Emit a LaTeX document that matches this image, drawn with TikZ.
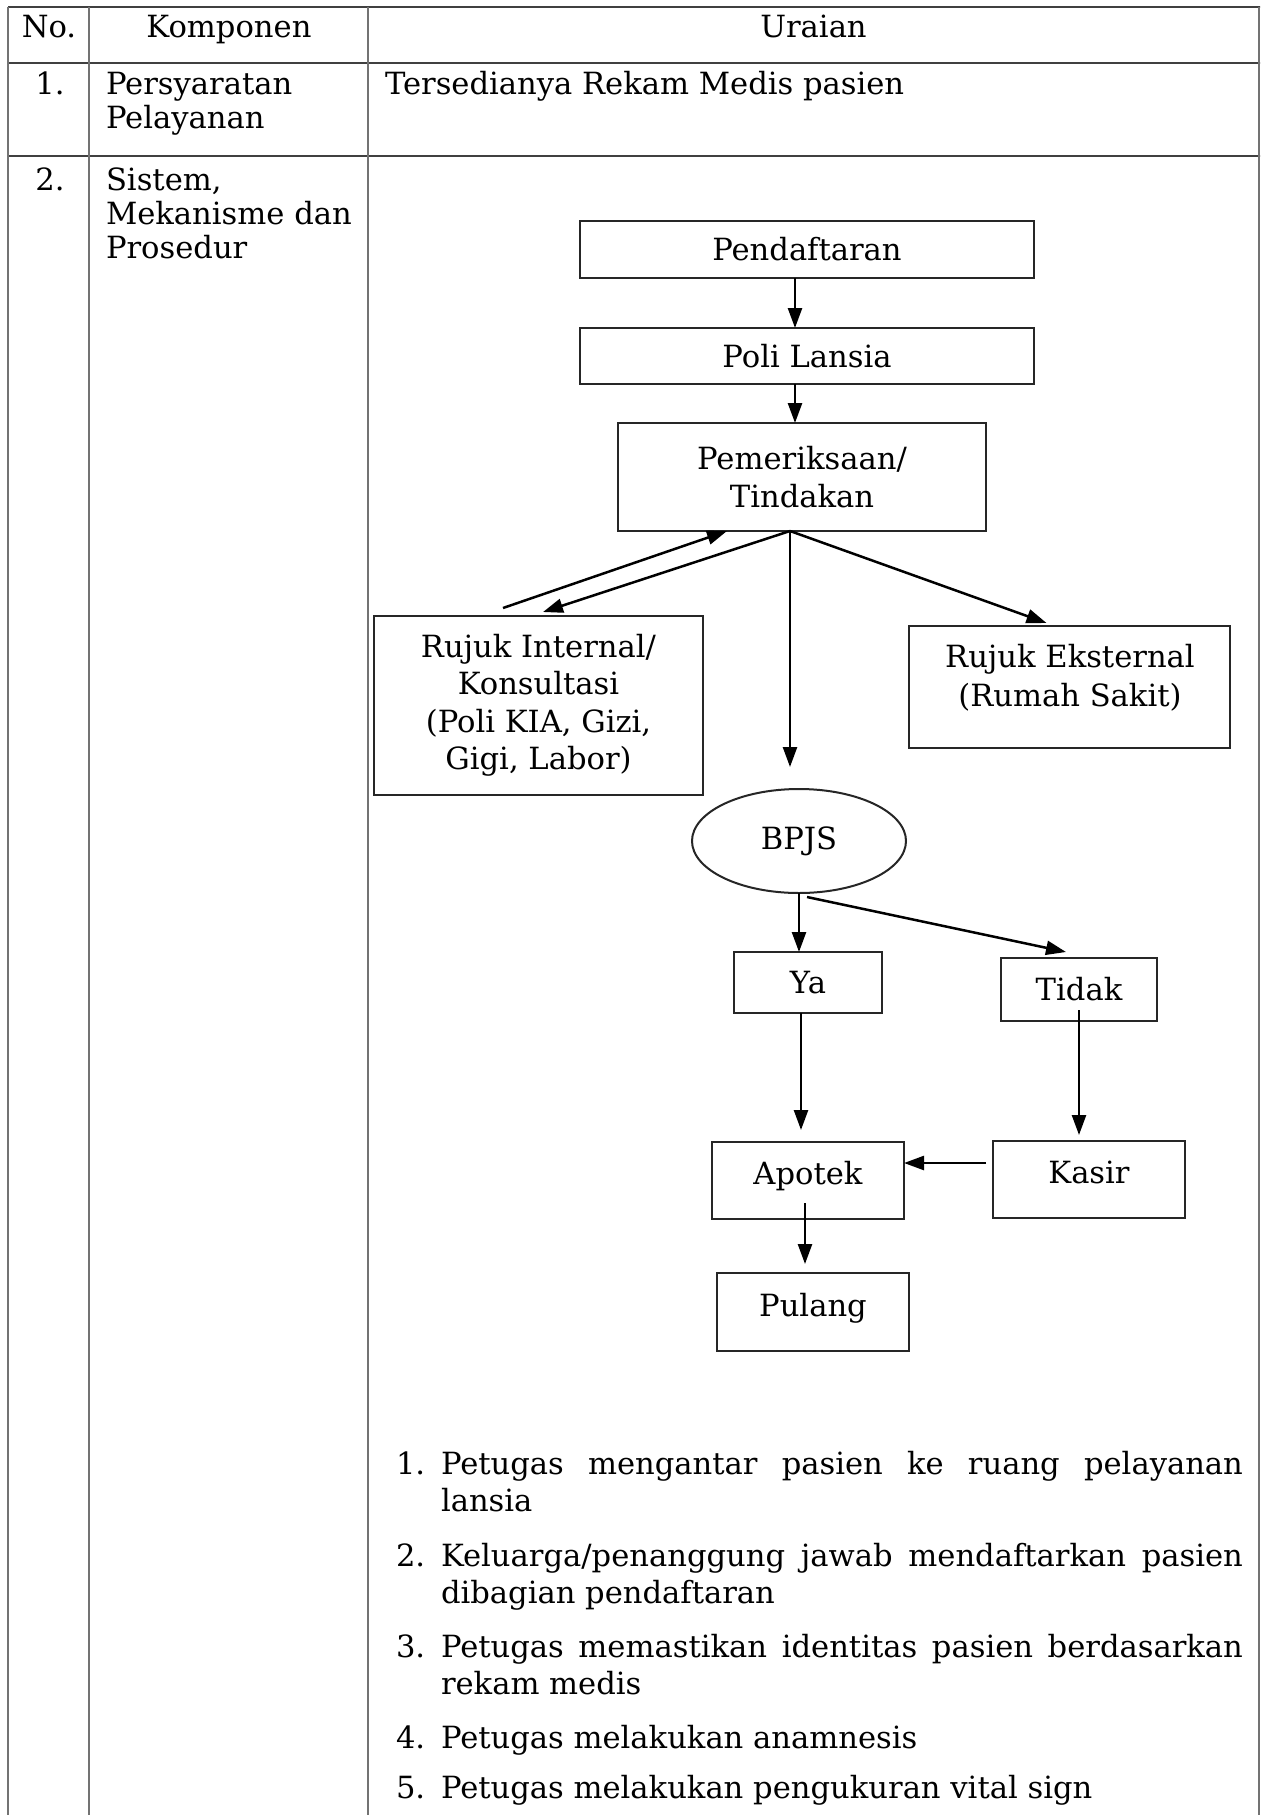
\documentclass[tikz,border=0pt]{standalone}
\usepackage{fontspec}
\setmainfont{DejaVu Serif}
\usetikzlibrary{arrows.meta,shapes.geometric,calc}

\begin{document}
\begin{tikzpicture}[x=0.5pt,y=-0.5pt,
  every node/.style={inner sep=0pt, outer sep=0pt},
  txt/.style={font=\fontsize{15.3}{17.5}\selectfont, anchor=base},
  box/.style={draw=black!85, line width=1pt, font=\fontsize{15.3}{19}\selectfont, align=center},
  oval/.style={box, ellipse},
  flow/.style={line width=1.25pt, -{Triangle[length=10pt,width=7pt]}},
  hrule/.style={line width=1.3pt, draw=black!75},
  vrule/.style={line width=0.9pt, draw=black!55}]

\useasboundingbox (0,0) rectangle (1260,1815);
\clip (0,0) rectangle (1260,1815);
\fill[white] (0,0) rectangle (1260,1815);

% table grid
\draw[hrule] (8,7) -- (1262,7);
\draw[hrule] (8,63) -- (1262,63);
\draw[hrule] (8,156) -- (1262,156);
\draw[vrule] (8,7) -- (8,1830);
\draw[vrule] (89,7) -- (89,1830);
\draw[vrule] (368,7) -- (368,1830);
\draw[vrule] (1259,7) -- (1259,1830);

% header row
\node[txt] (hno) at (49,37) {No.};
\node[txt] (hkomp) at (229,37) {Komponen};
\node[txt] (hurai) at (813.5,37) {Uraian};

% row 1
\node[txt] (n1) at (50,94) {1.};
\node[txt, anchor=base west] (k1a) at (106,94) {Persyaratan};
\node[txt, anchor=base west] (k1b) at (106,128) {Pelayanan};
\node[txt, anchor=base west] (u1) at (385,94) {Tersedianya Rekam Medis pasien};

% row 2
\node[txt] (n2) at (50,190) {2.};
\node[txt, anchor=base west] (k2a) at (106,190) {Sistem,};
\node[txt, anchor=base west] (k2b) at (106,224) {Mekanisme dan};
\node[txt, anchor=base west] (k2c) at (106,258) {Prosedur};

% flowchart boxes
\node[box, minimum width=227pt, minimum height=28.5pt] (pend) at (807,249.5) {Pendaftaran};
\node[box, minimum width=227pt, minimum height=28pt] (poli) at (807,356) {Poli Lansia};
\node[box, minimum width=184pt, minimum height=54pt] (pem) at (802,477) {Pemeriksaan/\\Tindakan};
\node[box, minimum width=164.5pt, minimum height=89.5pt, font=\fontsize{15.3}{18.75}\selectfont] (ri) at (538.5,705.5)
  {Rujuk Internal/\\Konsultasi\\(Poli KIA, Gizi,\\Gigi, Labor)};
\node[box, minimum width=160.5pt, minimum height=61pt] (re) at (1069.5,687) {};
\node[txt] (retxt1) at (1070,667) {Rujuk Eksternal};
\node[txt] (retxt2) at (1070,706) {(Rumah Sakit)};
\node[oval, minimum width=107pt, minimum height=52pt] (bpjs) at (799,841) {BPJS};
\node[box, minimum width=74pt, minimum height=30.5pt] (ya) at (808,982.5) {Ya};
\node[box, minimum width=78pt, minimum height=31.5pt] (tidak) at (1079,989.5) {Tidak};
\node[box, minimum width=96pt, minimum height=38.5pt] (apotek) at (808,1180.5) {};
\node[txt] (apotektxt) at (808,1184) {Apotek};
\node[box, minimum width=96pt, minimum height=38.5pt] (kasir) at (1089,1179.5) {};
\node[txt] (kasirtxt) at (1089,1183) {Kasir};
\node[box, minimum width=96pt, minimum height=39pt] (pulang) at (813,1312) {};
\node[txt] (pulangtxt) at (813,1316) {Pulang};

% connector end points
\coordinate (pendout) at ($(pend.south)+(-12,0)$);
\coordinate (poliout) at ($(poli.south)+(-12,0)$);
\coordinate (fan) at ($(pem.south)+(-12,0)$);
\coordinate (riback) at ($(ri.north)+(-35.5,-8)$);
\coordinate (yaout) at ($(ya.south)+(-7,0)$);
\coordinate (tidakout) at ($(tidak.south)+(0,-11)$);
\coordinate (kasirout) at ($(kasir.north west)+(-7,22)$);
\coordinate (apotekout) at ($(apotek.south)+(-3,-16)$);

% connectors
\draw[flow] (pendout) -- (pendout |- poli.north);
\draw[flow] (poliout) -- (poliout |- pem.north);
\draw[flow, shorten >=11pt] (fan) -- (fan |- bpjs.north);
\draw[flow] (fan) -- ($(ri.north)+(4.5,-4)$);
\draw[flow] (riback) -- ($(pem.south)+(-75,0)$);
\draw[flow] (fan) -- ($(re.north)+(-23,-3)$);
\draw[flow] (bpjs.south) -- (bpjs.south |- ya.north);
\draw[flow] ($(bpjs.south)+(8,4)$) -- ($(tidak.north)+(-13,-6)$);
\draw[flow, shorten >=6pt] (yaout) -- (yaout |- apotek.north);
\draw[flow, shorten >=3pt] (tidakout) -- (tidakout |- kasir.north);
\draw[flow] (kasirout) -- (kasirout -| apotek.east);
\draw[flow, shorten >=4.5pt] (apotekout) -- (apotekout |- pulang.north);

% numbered steps
\node[txt, anchor=base west] (l1) at (396,1474) {1.};
\node[txt, anchor=base west] (s1a) at (441,1474) {\makebox[401pt][s]{Petugas mengantar pasien ke ruang pelayanan}};
\node[txt, anchor=base west] (s1b) at (441,1511) {lansia};
\node[txt, anchor=base west] (l2) at (396,1566) {2.};
\node[txt, anchor=base west] (s2a) at (441,1566) {\makebox[401pt][s]{Keluarga/penanggung jawab mendaftarkan pasien}};
\node[txt, anchor=base west] (s2b) at (441,1603) {dibagian pendaftaran};
\node[txt, anchor=base west] (l3) at (396,1657) {3.};
\node[txt, anchor=base west] (s3a) at (441,1657) {\makebox[401pt][s]{Petugas memastikan identitas pasien berdasarkan}};
\node[txt, anchor=base west] (s3b) at (441,1694) {rekam medis};
\node[txt, anchor=base west] (l4) at (396,1748) {4.};
\node[txt, anchor=base west] (s4) at (441,1748) {Petugas melakukan anamnesis};
\node[txt, anchor=base west] (l5) at (396,1798) {5.};
\node[txt, anchor=base west] (s5) at (441,1798) {Petugas melakukan pengukuran vital sign};
\end{tikzpicture}
\end{document}
